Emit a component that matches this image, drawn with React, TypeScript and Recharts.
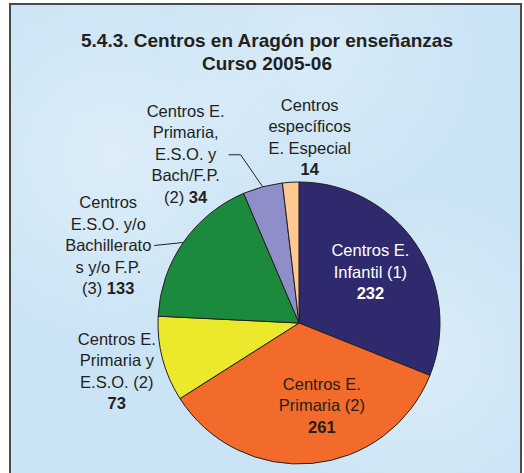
import { PieChart, Pie, Cell } from 'recharts';

// Centros en Aragón por enseñanzas, curso 2005-06
const categories = [
  'Centros E. Infantil (1)',
  'Centros E. Primaria (2)',
  'Centros E. Primaria y E.S.O. (2)',
  'Centros E.S.O. y/o Bachilleratos y/o F.P. (3)',
  'Centros E. Primaria, E.S.O. y Bach/F.P. (2)',
  'Centros específicos E. Especial',
];
const values = [232, 261, 73, 133, 34, 14];
const labelLines = [
  ['Centros E.', 'Infantil (1)'],
  ['Centros E.', 'Primaria (2)'],
  ['Centros E.', 'Primaria y', 'E.S.O. (2)'],
  ['Centros', 'E.S.O. y/o', 'Bachillerato', 's y/o F.P.', '(3) '],
  ['Centros E.', 'Primaria,', 'E.S.O. y', 'Bach/F.P.', '(2) '],
  ['Centros', 'específicos', 'E. Especial'],
];
// value shown on its own line (false) or after the last text line (true)
const valueInline = [false, false, false, true, true, false];

const colors = ['#2f2a6e', '#f26b2b', '#ece82c', '#1b8a3d', '#8e8fc9', '#fdc892'];
const textColors = ['#ffffff', '#231f20', '#231f20', '#231f20', '#231f20', '#231f20'];

// label placement: anchor radius (x outerRadius), then a nudge of the text block centre
const labelPlace = [
  { k: 0.62, dx: -1, dy: -2, leader: null },
  { k: 0.6, dx: 15, dy: -2, leader: null },
  { k: 1.3, dx: -5, dy: 1, leader: null },
  { k: 1, dx: -75, dy: 3, leader: [[-29, 3]] },
  { k: 1, dx: -77, dy: -33, leader: [[-22, -32], [-34, -32]] },
  { k: 1, dx: 19, dy: -45, leader: null },
];

const data = categories.map((name, i) => ({ name, value: values[i] }));

const FONT = '"Liberation Sans", Arial, Helvetica, sans-serif';
const RAD = Math.PI / 180;
const LINE_H = 21.5;

function renderLabel(props: any) {
  const { cx, cy, midAngle, outerRadius, index } = props;
  const place = labelPlace[index];
  const r = outerRadius * place.k;
  const ax = cx + r * Math.cos(-midAngle * RAD);
  const ay = cy + r * Math.sin(-midAngle * RAD);
  const bx = ax + place.dx;
  const by = ay + place.dy;
  const lines = labelLines[index];
  const total = valueInline[index] ? lines.length : lines.length + 1;
  const firstMid = by - ((total - 1) / 2) * LINE_H;
  const fill = textColors[index];

  let leader = null;
  if (place.leader) {
    const pts = [[ax, ay], ...place.leader.map(([px, py]) => [ax + px, ay + py])];
    leader = (
      <polyline
        points={pts.map(p => p.join(',')).join(' ')}
        fill="none"
        stroke="#231f20"
        strokeWidth={1}
      />
    );
  }

  return (
    <g key={`lbl-${index}`}>
      {leader}
      <text textAnchor="middle" fill={fill} fontFamily={FONT} fontSize={16.5}>
        {lines.map((ln, j) => (
          <tspan key={j} x={bx} y={firstMid + j * LINE_H + 6}>
            {ln}
            {valueInline[index] && j === lines.length - 1 && (
              <tspan fontWeight="bold">{values[index]}</tspan>
            )}
          </tspan>
        ))}
        {!valueInline[index] && (
          <tspan x={bx} y={firstMid + lines.length * LINE_H + 6} fontWeight="bold">
            {values[index]}
          </tspan>
        )}
      </text>
    </g>
  );
}

export default function App() {
  return (
    <div
      style={{
        position: 'absolute',
        left: 0,
        top: 0,
        width: 524,
        height: 473,
        overflow: 'hidden',
        background: '#ffffff',
      }}
    >
      <div
        style={{
          position: 'absolute',
          left: 9,
          top: 3,
          width: 509,
          height: 500,
          border: '2px solid #4a4a4a',
          background:
            'radial-gradient(circle at 20% 30%, rgba(255,255,255,0.35), rgba(255,255,255,0) 35%),' +
            'radial-gradient(circle at 80% 70%, rgba(255,255,255,0.3), rgba(255,255,255,0) 30%),' +
            'radial-gradient(circle at 60% 10%, rgba(255,255,255,0.25), rgba(255,255,255,0) 30%),' +
            '#cbe4f5',
        }}
      />
      <div
        style={{
          position: 'absolute',
          left: 0,
          top: 29,
          width: 534,
          textAlign: 'center',
          fontFamily: FONT,
          fontWeight: 'bold',
          fontSize: 19,
          lineHeight: '23px',
          color: '#231f20',
        }}
      >
        <div>5.4.3. Centros en Aragón por enseñanzas</div>
        <div>Curso 2005-06</div>
      </div>
      <div style={{ position: 'absolute', left: 0, top: 0 }}>
        <PieChart width={524} height={473}>
          <Pie
            data={data}
            dataKey="value"
            nameKey="name"
            cx={294}
            cy={318}
            outerRadius={141}
            startAngle={90}
            endAngle={-270}
            stroke="#231f20"
            strokeWidth={1}
            label={renderLabel}
            labelLine={false}
            isAnimationActive={false}
          >
            {data.map((d, i) => (
              <Cell key={d.name} fill={colors[i]} />
            ))}
          </Pie>
        </PieChart>
      </div>
    </div>
  );
}
